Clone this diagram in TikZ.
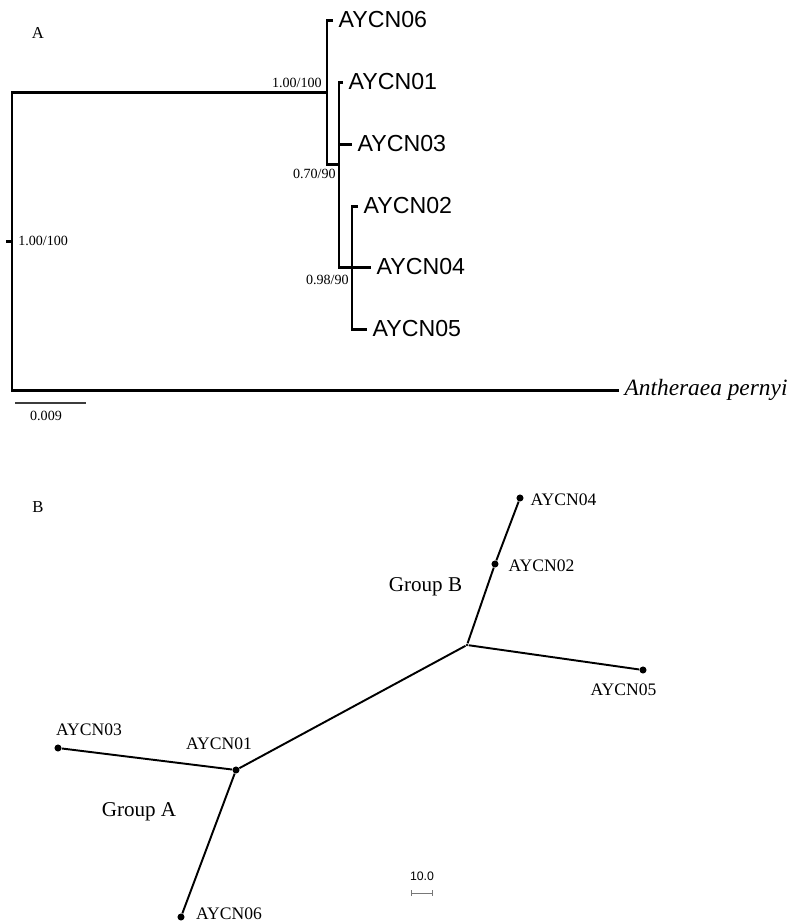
\documentclass[tikz,border=0pt]{standalone}
\usepackage{fontspec}
\setmainfont{Liberation Serif}
\setsansfont{Liberation Sans}
\usepackage{tikz}
\usetikzlibrary{calc}
\definecolor{treeline}{RGB}{0,0,0}
\definecolor{barline}{RGB}{60,60,60}
\definecolor{barlight}{RGB}{120,120,120}
\tikzset{
  br/.style   ={draw=treeline, line width=1.7pt},
  ed/.style   ={draw=treeline, line width=1.1pt},
  tip/.style  ={font=\sffamily\fontsize{13.2}{15}\selectfont, anchor=west, inner xsep=3pt, inner ysep=0pt},
  lab/.style  ={font=\fontsize{8}{9}\selectfont, inner sep=0pt},
  blab/.style ={font=\fontsize{10}{12}\selectfont, inner sep=0pt},
  grp/.style  ={font=\fontsize{12}{14}\selectfont, inner sep=0pt},
  pan/.style  ={font=\fontsize{9.5}{11}\selectfont, inner sep=0pt},
  bdot/.style ={circle, fill=treeline, inner sep=0pt, minimum size=4pt},
  jdot/.style ={circle, fill=treeline, inner sep=0pt, minimum size=1.6pt},
}

\begin{document}
\begin{tikzpicture}[x=0.02cm, y=-0.02cm]
  \useasboundingbox (0,0) rectangle (791,921);
  % panel A: tree
  \node[pan] (pA) at (38,33) {A};
  \coordinate (root) at (12,241);
  \coordinate (c1) at (327,92);
  \coordinate (c2) at (339,164);
  \coordinate (c3) at (352,267);
  \node[tip] (t06) at (333,20) {AYCN06};
  \node[tip] (t01) at (343,82) {AYCN01};
  \node[tip] (t03) at (352,144) {AYCN03};
  \node[tip] (t02) at (358,206) {AYCN02};
  \node[tip] (t04) at (371,267) {AYCN04};
  \node[tip] (t05) at (367,329) {AYCN05};
  \node[tip, font=\itshape\fontsize{13.3}{15}\selectfont] (tAp) at (619,390) {Antheraea pernyi};
  \draw[br] (c1) -| (root) |- (tAp.west);
  \draw[br] (root) -- ++(-6,0);
  \draw[br] (t06.west) -| (c1) |- (c2);
  \draw[br] (t01.west) -| (c2) |- (c3);
  \draw[br] (c2 |- t03.west) -- (t03.west);
  \draw[br] (t02.west) -| (c3) |- (t05.west);
  \draw[br] (c3) -- (t04.west);
  \node[lab, anchor=west] (sRoot) at (18,241) {1.00/100};
  \node[lab, anchor=east] (s1) at (322,83) {1.00/100};
  \node[lab, anchor=east] (s2) at (336,174) {0.70/90};
  \node[lab, anchor=east] (s3) at (349,280) {0.98/90};
  \coordinate (sa1) at (15,403);
  \coordinate (sa2) at (86,403);
  \draw[draw=barline, line width=0.8pt] (sa1) -- (sa2);
  \node[lab] (sA) at (46,416) {0.009};
  % panel B: network
  \node[pan] (pB) at (38,507) {B};
  \node[bdot] (b04) at (520,498) {};
  \node[bdot] (b02) at (495,564) {};
  \node[jdot] (bj) at (467,645) {};
  \node[bdot] (b05) at (643,670) {};
  \node[bdot] (b01) at (236,770) {};
  \node[bdot] (b03) at (58,748) {};
  \node[bdot] (b06) at (181,917) {};
  \draw[ed] (bj) -- (b02) -- (b04);
  \draw[ed] (bj) -- (b05);
  \draw[ed] (bj) -- (b01);
  \draw[ed] (b01) -- (b03);
  \draw[ed] (b01) -- (b06);
  \node[blab] (l04) at (563.5,500) {AYCN04};
  \node[blab] (l02) at (541.5,566) {AYCN02};
  \node[blab] (l05) at (623.5,690) {AYCN05};
  \node[blab] (l03) at (89,730) {AYCN03};
  \node[blab] (l01) at (219,744) {AYCN01};
  \node[blab] (l06) at (229,914) {AYCN06};
  \node[grp] (gB) at (425.5,587) {Group B};
  \node[grp] (gA) at (139,812) {Group A};
  \coordinate (sb1) at (411,893);
  \coordinate (sb2) at (432,893);
  \draw[draw=barlight, line width=0.5pt] (sb1) -- (sb2);
  \draw[draw=barlight, line width=0.5pt] ($(sb1)+(0,-3)$) -- ++(0,6);
  \draw[draw=barlight, line width=0.5pt] ($(sb2)+(0,-3)$) -- ++(0,6);
  \node[font=\sffamily\fontsize{7}{8}\selectfont, inner sep=0pt] (sB) at (422,876) {10.0};
\end{tikzpicture}
\end{document}
